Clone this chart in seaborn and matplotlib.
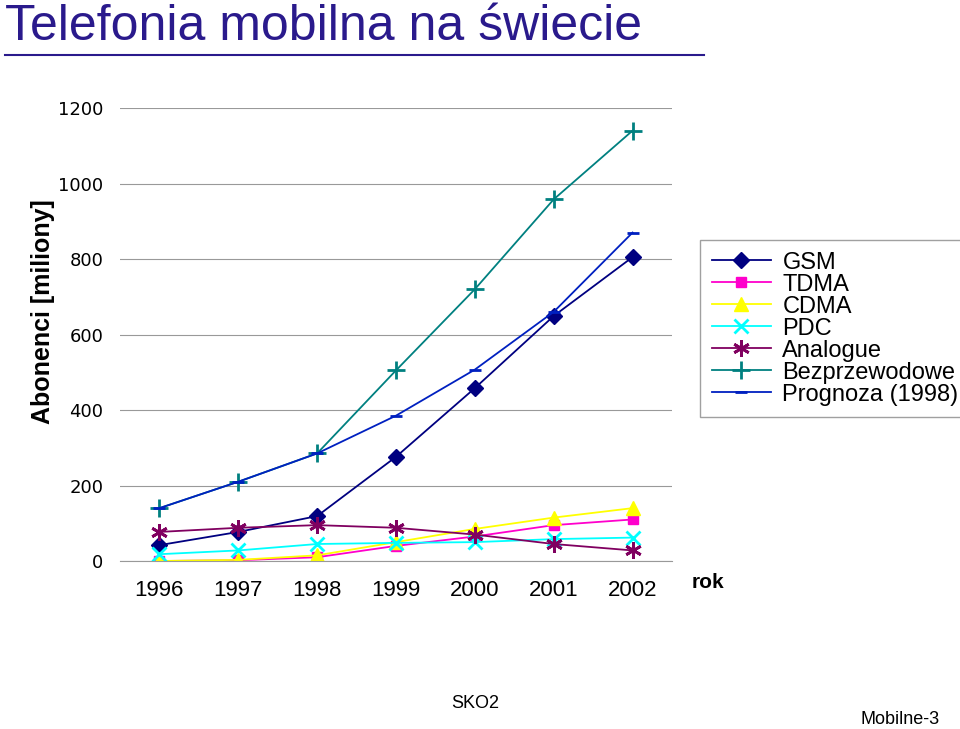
import matplotlib
matplotlib.use("Agg")
import matplotlib.pyplot as plt
import seaborn as sns
import pandas as pd

years = ["1996", "1997", "1998", "1999", "2000", "2001", "2002"]
gsm = [42, 77, 119, 276, 458, 649, 805]
tdma = [0, 2, 10, 40, 65, 95, 110]
cdma = [0, 3, 15, 50, 85, 115, 140]
pdc = [18, 28, 45, 48, 50, 58, 62]
analogue = [77, 88, 95, 88, 70, 45, 28]
bezprzewodowe = [140, 210, 285, 505, 720, 958, 1140]
prognoza = [140, 210, 285, 385, 507, 660, 870]

series = [
    ("GSM", gsm, "#000080", "D", 8),
    ("TDMA", tdma, "#FF00CC", "s", 7),
    ("CDMA", cdma, "#FFFF00", "^", 10),
    ("PDC", pdc, "#00FFFF", "x", 10),
    ("Analogue", analogue, "#800060", (6, 2, 0), 12),
    ("Bezprzewodowe", bezprzewodowe, "#008080", "+", 13),
    ("Prognoza (1998)", prognoza, "#0020C0", "_", 9),
]

fig = plt.figure(figsize=(9.6, 7.29), dpi=100)
ax = fig.add_axes([120/960, 1-561/729, 552/960, 453/729])
x = list(range(len(years)))
for name, vals, col, mk, ms in series:
    df = pd.DataFrame({"x": x, "y": vals})
    sns.lineplot(data=df, x="x", y="y", ax=ax, color=col, marker=mk, markersize=ms,
                 markeredgecolor=col, markeredgewidth=2 if mk in ("x", "+", "_", (6, 2, 0)) else 1,
                 linewidth=1.3, label=name)
ax.set_xlim(-0.5, 6.5)
ax.set_ylim(0, 1200)
ax.set_yticks(range(0, 1201, 200))
ax.set_xticks(x)
ax.set_xticklabels(years, fontsize=16, fontfamily="Liberation Sans")
ax.tick_params(axis="y", labelsize=13, length=0, pad=12)
ax.tick_params(axis="x", length=0, pad=14)
ax.grid(axis="y", color="#999999", linewidth=0.8)
for s in ["top", "right", "left"]:
    ax.spines[s].set_visible(False)
ax.spines["bottom"].set_color("#999999")
ax.set_xlabel("")
ax.set_ylabel("Abonenci [miliony]", fontsize=18, fontweight="bold", fontfamily="Liberation Sans")
ax.yaxis.set_label_coords((55-120)/552, (561-312)/453)
leg = ax.legend(loc="upper left", bbox_to_anchor=((688-120)/552, (561-228)/453), frameon=True,
                fancybox=False, edgecolor="#888888", handlelength=2.5,
                prop={"family": "Liberation Sans", "size": 17}, labelspacing=0.0, borderpad=0.5,
                handletextpad=0.5)
fig.text(0.005, 0.995, "Telefonia mobilna na świecie", fontsize=36, color="#2A1A8C",
         va="top", ha="left", fontfamily="Liberation Sans")
fig.add_artist(plt.Line2D([0.005, 0.733], [0.925, 0.925], color="#2A1A8C", linewidth=1.5))
fig.text(692/960, 1-582/729, "rok", fontsize=15, fontweight="bold", va="center", fontfamily="Liberation Sans")
fig.text(475/960, 1-703/729, "SKO2", fontsize=13, ha="center", va="center", fontfamily="Liberation Sans")
fig.text(940/960, 1-719/729, "Mobilne-3", fontsize=13, ha="right", va="center", fontfamily="Liberation Sans")
fig.savefig("out.png", dpi=100)
